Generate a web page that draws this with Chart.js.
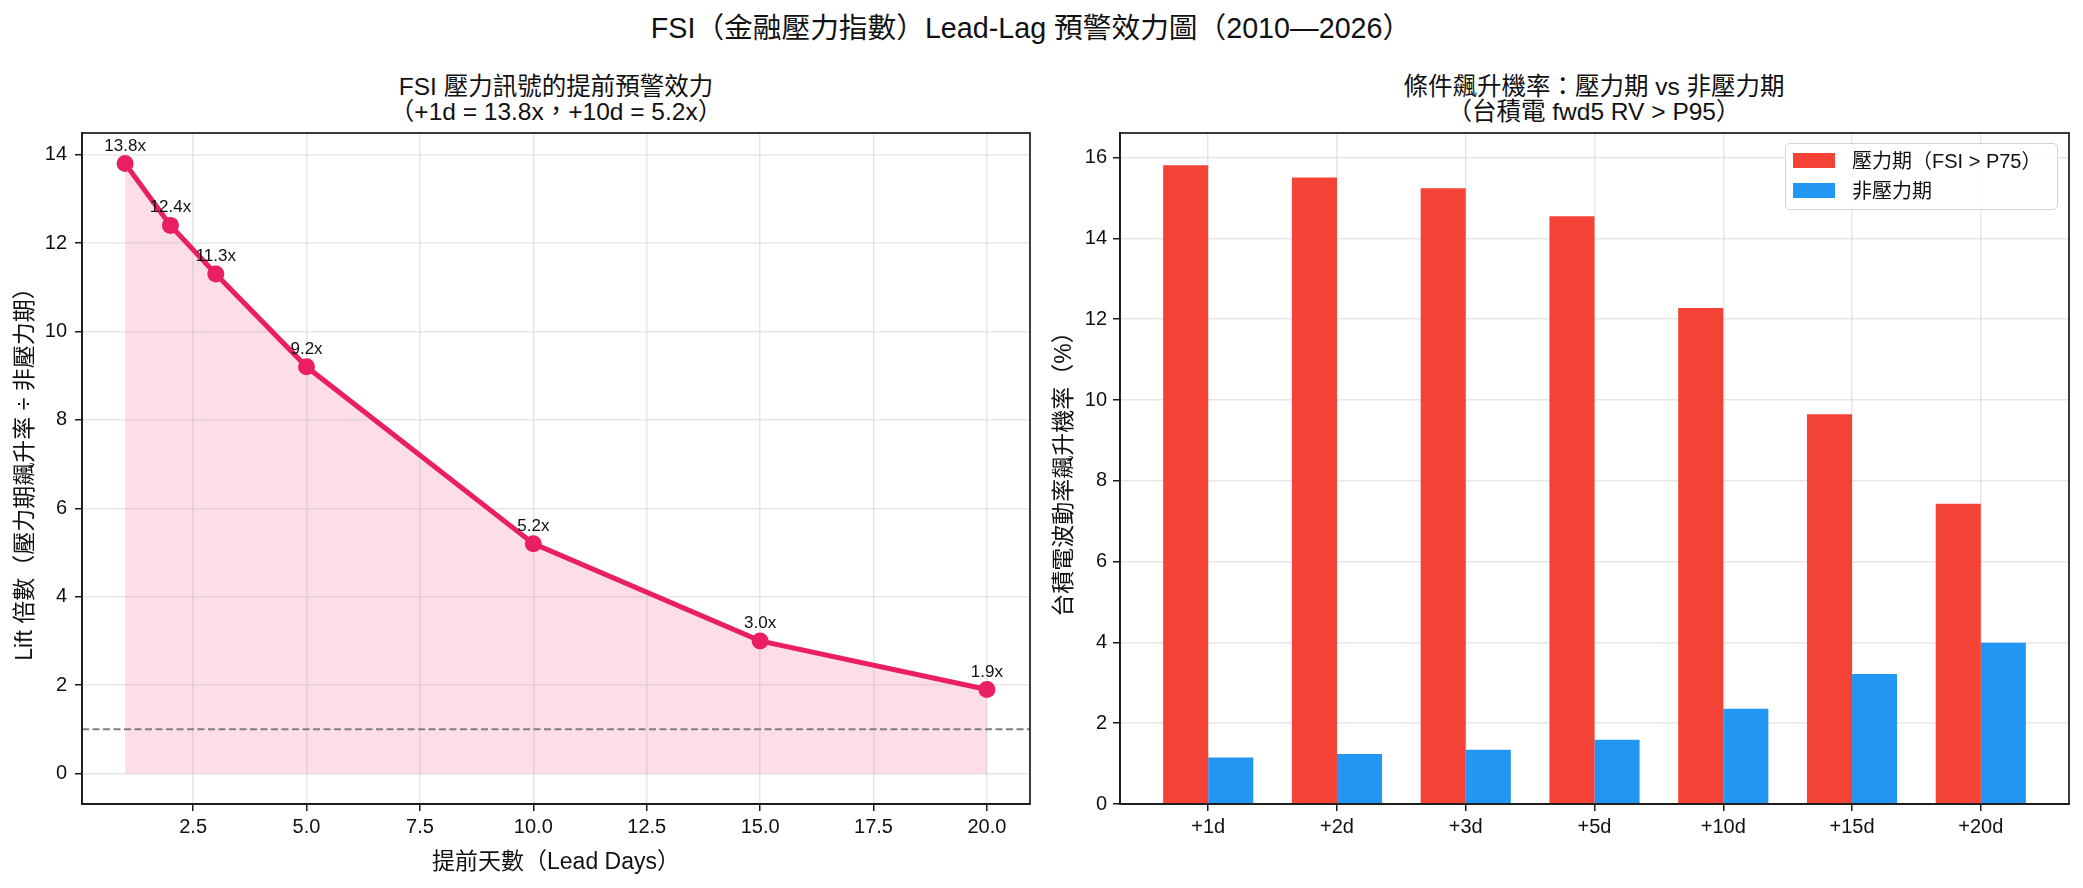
<!DOCTYPE html>
<html>
<head>
<meta charset="utf-8">
<script src="https://cdn.jsdelivr.net/npm/chart.js@4.4.1/dist/chart.umd.min.js"></script>
<style>
  html, body { margin: 0; padding: 0; background: #fff; }
  body { width: 2083px; height: 888px; position: relative; overflow: hidden;
         font-family: "Liberation Sans", "Noto Sans CJK TC", sans-serif; color: #111; }
  canvas { position: absolute; top: 0; }
  #leftChart { left: 0; }
  #rightChart { left: 1040px; }
  .title { position: absolute; text-align: center; white-space: nowrap; }
  #suptitle { left: 0; width: 2062px; top: 11px; font-size: 28.7px; line-height: 34px; }
  .sub { top: 74px; width: 600px; font-size: 24.5px; line-height: 25px; }
  #legend { position: absolute; left: 1785px; top: 143px; width: 271px; height: 65px;
            border: 1px solid #d4d4d4; border-radius: 5px; background: rgba(255,255,255,0.85);
            font-size: 20px; }
  .row { position: absolute; left: 7px; height: 24px; line-height: 24px; white-space: nowrap; }
  .swatch { display: inline-block; width: 42px; height: 15px; vertical-align: middle; margin-right: 17px; position: relative; top: -2px; }
</style>
</head>
<body>
<div id="suptitle" class="title">FSI（金融壓力指數）Lead-Lag 預警效力圖（2010—2026）</div>
<div class="title sub" style="left:256px">FSI 壓力訊號的提前預警效力<br>（+1d = 13.8x，+10d = 5.2x）</div>
<div class="title sub" style="left:1294px">條件飆升機率：壓力期 vs 非壓力期<br>（台積電 fwd5 RV &gt; P95）</div>
<canvas id="leftChart" width="1040" height="888"></canvas>
<canvas id="rightChart" width="1043" height="888"></canvas>
<div id="legend">
  <div class="row" style="top:5px"><span class="swatch" style="background:#F44336"></span>壓力期（FSI &gt; P75）</div>
  <div class="row" style="top:35px"><span class="swatch" style="background:#2196F3"></span>非壓力期</div>
</div>
<script>
// Left panel data
const leadDays = [1, 2, 3, 5, 10, 15, 20];
const liftValues = [13.8, 12.4, 11.3, 9.2, 5.2, 3.0, 1.9];
const leadTicks = [2.5, 5, 7.5, 10, 12.5, 15, 17.5, 20];
const liftTicks = [0, 2, 4, 6, 8, 10, 12, 14];
const baseline = 1;

// Right panel data
const leadLabels = ["+1d", "+2d", "+3d", "+5d", "+10d", "+15d", "+20d"];
const stressRates = [15.81, 15.51, 15.24, 14.55, 12.28, 9.65, 7.43];
const calmRates = [1.15, 1.24, 1.34, 1.59, 2.36, 3.22, 3.99];
const rateTicks = [0, 2, 4, 6, 8, 10, 12, 14, 16];

Chart.defaults.font.family = '"Liberation Sans", "Noto Sans CJK TC", sans-serif';
Chart.defaults.color = "#111";

const gridColor = "rgba(176,176,176,0.3)";
const tickColor = "#1a1a1a";

// box around the plot area (matplotlib spines)
const framePlugin = {
  id: "frame",
  afterDraw(chart) {
    const { ctx, chartArea: a } = chart;
    ctx.save();
    ctx.strokeStyle = "#1a1a1a";
    ctx.lineWidth = 1.7;
    ctx.strokeRect(a.left, a.top, a.right - a.left, a.bottom - a.top);
    ctx.restore();
  },
};

// dashed reference line at lift = 1
const baselinePlugin = {
  id: "baseline",
  beforeDatasetsDraw(chart) {
    const { ctx, chartArea: a, scales } = chart;
    const y = scales.y.getPixelForValue(baseline);
    ctx.save();
    ctx.strokeStyle = "#808080";
    ctx.lineWidth = 2;
    ctx.setLineDash([7, 3.5]);
    ctx.beginPath();
    ctx.moveTo(a.left, y);
    ctx.lineTo(a.right, y);
    ctx.stroke();
    ctx.restore();
  },
};

// "13.8x" labels above points
const pointLabels = {
  id: "pointLabels",
  afterDatasetsDraw(chart) {
    const { ctx } = chart;
    const meta = chart.getDatasetMeta(0);
    ctx.save();
    ctx.font = '17px "Liberation Sans", sans-serif';
    ctx.fillStyle = "#111";
    ctx.textAlign = "center";
    ctx.textBaseline = "alphabetic";
    meta.data.forEach((pt, i) => {
      ctx.fillText(liftValues[i].toFixed(1) + "x", pt.x, pt.y - 13);
    });
    ctx.restore();
  },
};

const leftCanvas = document.getElementById("leftChart");
new Chart(leftCanvas, {
  type: "line",
  data: {
    datasets: [
      {
        data: leadDays.map((x, i) => ({ x: x, y: liftValues[i] })),
        borderColor: "#E91E63",
        borderWidth: 5,
        backgroundColor: "rgba(233,30,99,0.15)",
        fill: "origin",
        tension: 0,
        pointRadius: 8.5,
        pointBackgroundColor: "#E91E63",
        pointBorderWidth: 0,
      },
    ],
  },
  options: {
    responsive: false,
    animation: false,
    events: [],
    layout: { padding: { top: 133, right: 10, left: 0, bottom: 0 } },
    plugins: {
      legend: { display: false },
      tooltip: { enabled: false },
      filler: { drawTime: "beforeDraw" },
    },
    scales: {
      x: {
        type: "linear",
        min: 0.05,
        max: 20.95,
        afterBuildTicks: (s) => { s.ticks = leadTicks.map((v) => ({ value: v })); },
        afterFit: (s) => { s.height = 84; },
        ticks: { font: { size: 20 }, padding: 4, callback: (v) => Number(v).toFixed(1), maxRotation: 0 },
        grid: { color: gridColor, lineWidth: 1.5, tickColor: tickColor, tickLength: 7, tickWidth: 1.5 },
        border: { color: "#1a1a1a", width: 1.7 },
        title: { display: true, text: "提前天數（Lead Days）", font: { size: 23 }, padding: { top: 0, bottom: 12 } },
      },
      y: {
        type: "linear",
        min: -0.69,
        max: 14.49,
        afterBuildTicks: (s) => { s.ticks = liftTicks.map((v) => ({ value: v })); },
        afterFit: (s) => { s.width = 82; },
        ticks: { font: { size: 20 }, padding: 8 },
        grid: { color: gridColor, lineWidth: 1.5, tickColor: tickColor, tickLength: 7, tickWidth: 1.5 },
        border: { color: "#1a1a1a", width: 1.7 },
        title: { display: true, text: "Lift 倍數（壓力期飆升率 ÷ 非壓力期）", font: { size: 23 }, padding: { top: 12, bottom: 0 } },
      },
    },
  },
  plugins: [baselinePlugin, pointLabels, framePlugin],
});

const rightCanvas = document.getElementById("rightChart");
new Chart(rightCanvas, {
  type: "bar",
  data: {
    datasets: [
      {
        label: "壓力期（FSI > P75）",
        data: stressRates.map((y, i) => ({ x: i, y: y })),
        backgroundColor: "#F44336",
        categoryPercentage: 0.7,
        barPercentage: 1.0,
        borderWidth: 0,
      },
      {
        label: "非壓力期",
        data: calmRates.map((y, i) => ({ x: i, y: y })),
        backgroundColor: "#2196F3",
        categoryPercentage: 0.7,
        barPercentage: 1.0,
        borderWidth: 0,
      },
    ],
  },
  options: {
    responsive: false,
    animation: false,
    events: [],
    layout: { padding: { top: 133, right: 14, left: 0, bottom: 0 } },
    plugins: {
      legend: { display: false },
      tooltip: { enabled: false },
    },
    scales: {
      x: {
        type: "linear",
        offset: false,
        min: -0.685,
        max: 6.685,
        z: 1,
        afterBuildTicks: (s) => { s.ticks = leadLabels.map((_, i) => ({ value: i })); },
        afterFit: (s) => { s.height = 84; },
        ticks: { font: { size: 20 }, padding: 4, callback: (v) => leadLabels[v], maxRotation: 0 },
        grid: { offset: false, color: gridColor, lineWidth: 1.5, tickColor: tickColor, tickLength: 7, tickWidth: 1.5 },
        border: { color: "#1a1a1a", width: 1.7 },
      },
      y: {
        type: "linear",
        min: 0,
        max: 16.61,
        z: 1,
        afterBuildTicks: (s) => { s.ticks = rateTicks.map((v) => ({ value: v })); },
        afterFit: (s) => { s.width = 80; },
        ticks: { font: { size: 20 }, padding: 6 },
        grid: { color: gridColor, lineWidth: 1.5, tickColor: tickColor, tickLength: 7, tickWidth: 1.5 },
        border: { color: "#1a1a1a", width: 1.7 },
        title: { display: true, text: "台積電波動率飆升機率（%）", font: { size: 23 }, padding: { top: 11, bottom: 0 } },
      },
    },
  },
  plugins: [framePlugin],
});
</script>
</body>
</html>
